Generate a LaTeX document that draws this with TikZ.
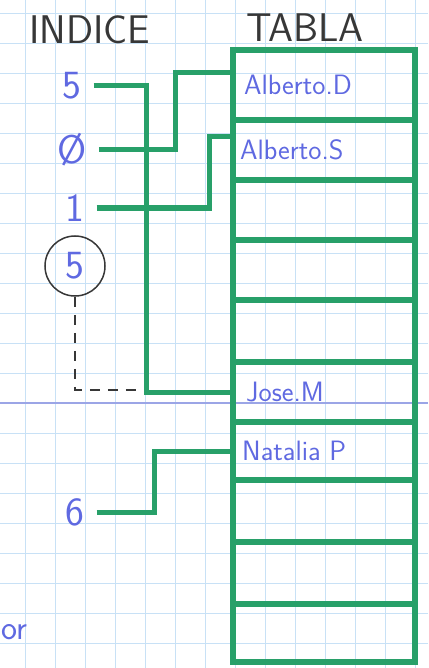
\documentclass[tikz,border=0pt]{standalone}
\usetikzlibrary{positioning}
\definecolor{marker}{RGB}{40,160,105}
\definecolor{ink}{RGB}{95,105,225}
\definecolor{pencil}{RGB}{55,55,55}
\definecolor{squares}{RGB}{200,225,246}
\definecolor{ruling}{RGB}{155,165,230}
\tikzstyle{slot} = [rectangle, draw=marker, line width=6pt, minimum width=182pt, inner sep=0pt]
\tikzstyle{index} = [text=ink, font=\sffamily\fontsize{40}{40}\selectfont, inner xsep=12pt, inner ysep=0pt]
\tikzstyle{entry} = [text=ink, font=\sffamily\fontsize{28}{28}\selectfont, inner sep=0pt]
\tikzstyle{heading} = [text=pencil, font=\sffamily\fontsize{40}{40}\selectfont]
\tikzstyle{link} = [draw=marker, line width=5pt]
\tikzstyle{guide} = [draw=pencil, line width=1.5pt, dash pattern=on 10pt off 8pt]

\begin{document}
\begin{tikzpicture}[x=1pt, y=-1pt]
        \useasboundingbox (0,0) rectangle (428,668);
        % Paper
        \foreach \x in {25,55,...,415} \draw [squares, line width=0.8pt] (\x,0) -- (\x,668);
        \foreach \y in {13,43,...,668} \draw [squares, line width=0.8pt] (0,\y) -- (428,\y);
        \draw [ruling, line width=1.2pt] (0,403) -- (428,403);

        % Headings
        \node (hindex) [heading] at (90,30) {INDICE};
        \node (htable) [heading] at (305,28) {TABLA};

        % Table
        \foreach \i/\t/\b in {1/50/120, 2/120/180, 3/180/240, 4/240/300, 5/300/362, 6/362/422, 7/422/480, 8/480/542, 9/542/604, 10/604/662}
            \node (r\i) [slot, minimum height={\b-\t}] at (324,{(\t+\b)/2}) {};

        \node (alberto) [entry, anchor=west, right=14pt of r1.west] {Alberto.D};
        \node (albertos) [entry, anchor=west, right=10pt of r2.west] {Alberto.S};
        \node (jose) [entry, anchor=west, right=16pt of r6.west] {Jose.M};
        \node (natalia) [entry, anchor=west, right=12pt of r7.west] {Natalia P};

        % Index
        \node (i5) [index] at (72,86) {5};
        \node (i0) [index] at (72,150) {\O};
        \node (i1) [index] at (75,208) {1};
        \node (c5) [index, draw=pencil, circle, line width=1.5pt, inner sep=0pt, minimum size=60pt] at (75,266) {5};
        \node (i6) [index] at (75,512) {6};
        \node (stray) [entry, font=\sffamily\fontsize{34}{34}\selectfont] at (14,632) {or};

        % Connections
        \draw [link] (i5.east) -- ++(53,0) |- (r6.west);
        \draw [link] (i0.east) -- ++(77,0) |- ([yshift=12pt]r1.west);
        \draw [link] (i1.east) -- ++(113,0) |- ([yshift=13pt]r2.west);
        \draw [link] (i6.east) -- ++(58,0) |- (r7.west);
        \coordinate (gap) at (137,390);
        \draw [guide] (c5.south) |- (gap); % dashed link
\end{tikzpicture}
\end{document}
